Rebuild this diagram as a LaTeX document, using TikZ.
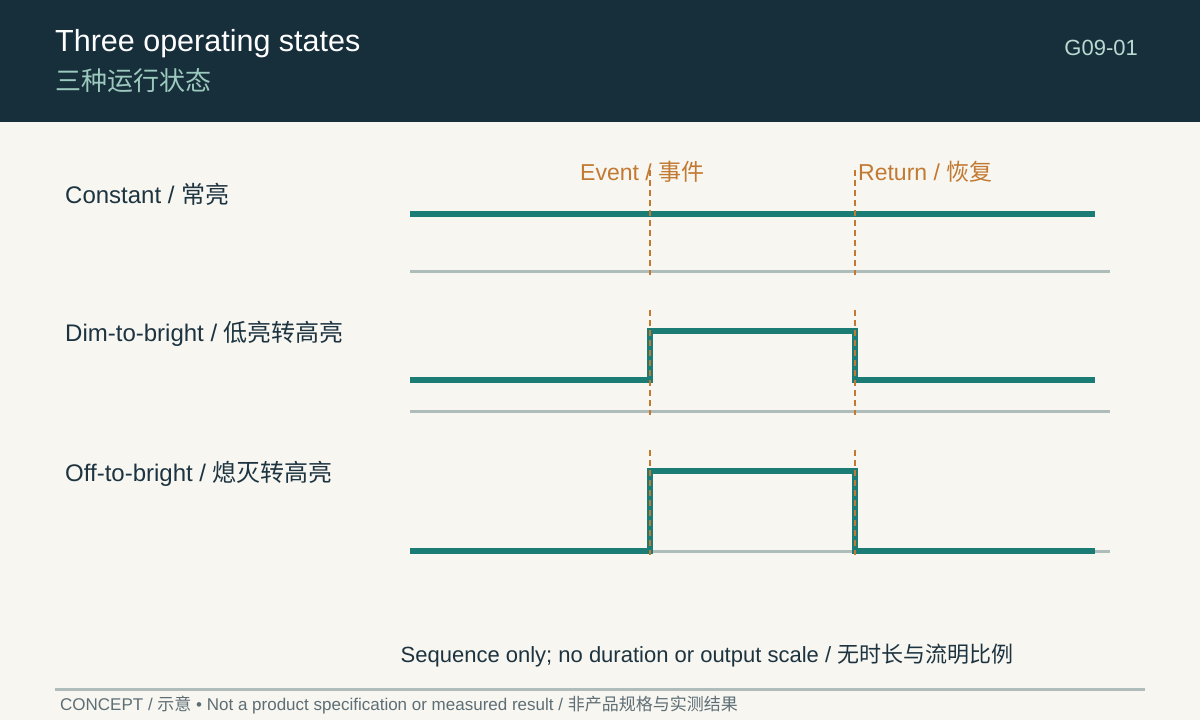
\documentclass[tikz,border=0pt]{standalone}
\usepackage{fontspec}
\setmainfont{Liberation Sans}
\newfontfamily\cjk{Noto Sans CJK SC}
\usetikzlibrary{positioning}
\definecolor{hdr}{HTML}{172E3B}
\definecolor{paper}{HTML}{F7F6F1}
\definecolor{ink}{HTML}{1D3440}
\definecolor{wavec}{HTML}{1B7B75}
\definecolor{evtc}{HTML}{C27A32}
\definecolor{rulec}{HTML}{AEBCBA}
\definecolor{subt}{HTML}{9CC9BD}
\definecolor{footc}{HTML}{5E6E75}
\tikzset{
  lbl/.style={anchor=west, inner sep=0, text=ink, font=\fontsize{24}{28}\selectfont},
  evtlbl/.style={anchor=west, inner sep=0, text=evtc, font=\fontsize{23}{27}\selectfont},
  wave/.style={line width=6pt, wavec},
  baseline/.style={line width=3pt, rulec},
  evtline/.style={evtc, line width=2pt, dash pattern=on 6pt off 4pt}
}
\begin{document}
\begin{tikzpicture}[x=1pt,y=-1pt]
	% page and header
	\fill[paper] (0,0) rectangle (1200,720);
	\useasboundingbox (0,0) rectangle (1200,720);
	\fill[hdr] (0,0) rectangle (1200,122);
	\node[anchor=west, inner sep=0, text=white, font=\fontsize{30.5}{34}\selectfont] (title) at (55,44) {Three operating states};
	\node[anchor=west, inner sep=0, text=subt, font=\fontsize{26}{30}\selectfont\cjk] (subtitle) at (55,81) {三种运行状态};
	\node[anchor=east, inner sep=0, text=subt!70!white, font=\fontsize{22}{26}\selectfont] (code) at (1138,48) {G09-01};
	
	% row labels
	\node[lbl] (constant) at (65,194) {Constant / {\cjk 常亮}};
	\node[lbl] (dim) at (65,334) {Dim-to-bright / {\cjk 低亮转高亮}};
	\node[lbl] (off) at (65,474) {Off-to-bright / {\cjk 熄灭转高亮}};
	
	% event labels
	\node[evtlbl] (event) at (580,172) {Event / {\cjk 事件}};
	\node[evtlbl] (return) at (858,172) {Return / {\cjk 恢复}};
	
	% baselines
	\draw[baseline] (410,271) -- (1110,271);
	\draw[baseline] (410,411) -- (1110,411);
	\draw[baseline] (410,551) -- (1110,551);
	
	% waveforms
	\draw[wave] (410,214) -- (1095,214);
	\draw[wave] (410,380) -- (650,380) -- (650,331) -- (855,331) -- (855,380) -- (1095,380);
	\draw[wave] (410,551) -- (650,551) -- (650,471) -- (855,471) -- (855,551) -- (1095,551);
	
	% event markers
	\foreach \t/\b in {170/275, 310/415, 450/555} {
		\draw[evtline] (650,\t) -- (650,\b);
		\draw[evtline] (855,\t) -- (855,\b);
	}
	
	% notes
	\node[inner sep=0, text=ink, font=\fontsize{22}{26}\selectfont] (note) at (707,656) {Sequence only; no duration or output scale / {\cjk 无时长与流明比例}};
	\draw[baseline] (55,689) -- (1145,689);
	\node[anchor=west, inner sep=0, text=footc, font=\fontsize{17}{20}\selectfont] (foot) at (60,705) {CONCEPT / {\cjk 示意} • Not a product specification or measured result / {\cjk 非产品规格与实测结果}};
\end{tikzpicture}
\end{document}
